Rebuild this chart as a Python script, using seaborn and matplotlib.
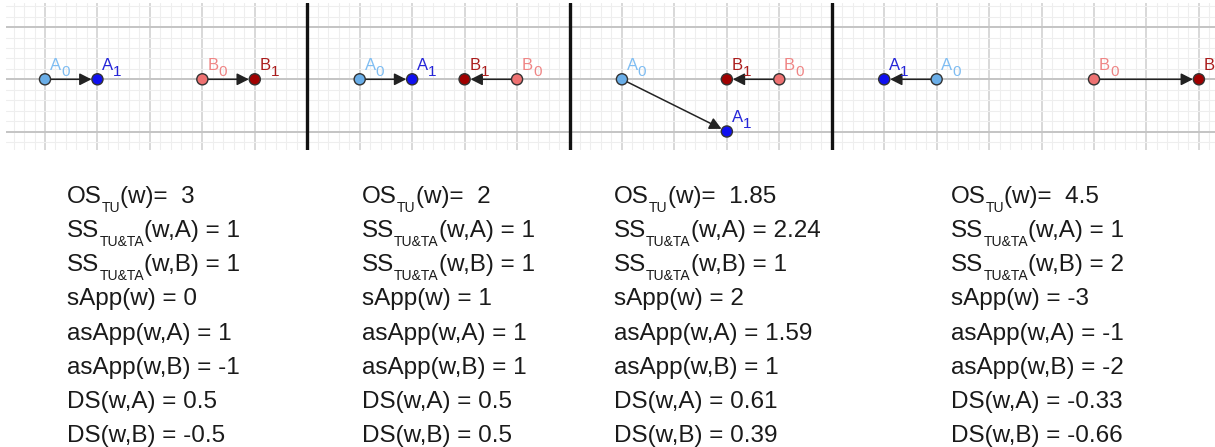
import numpy as np
import pandas as pd
import matplotlib

matplotlib.use("Agg")
import matplotlib.pyplot as plt
import seaborn as sns

# positions of the points (grid units), one entry per panel
a0_x = [0, 6, 11, 17]
a0_y = [0, 0, 0, 0]
a1_x = [1, 7, 13, 16]
a1_y = [0, 0, -1, 0]
b0_x = [3, 9, 14, 20]
b0_y = [0, 0, 0, 0]
b1_x = [4, 8, 13, 22]
b1_y = [0, 0, 0, 0]
separators = [5, 10, 15]

# measures below each panel
os_tu = [3, 2, 1.85, 4.5]
ss_a = [1, 1, 2.24, 1]
ss_b = [1, 1, 1, 2]
s_app = [0, 1, 2, -3]
as_app_a = [1, 1, 1.59, -1]
as_app_b = [-1, 1, 1, -2]
ds_a = [0.5, 0.5, 0.61, -0.33]
ds_b = [-0.5, 0.5, 0.39, -0.66]

sns.set_theme(style="white")
plt.rcParams["font.family"] = ["Liberation Sans", "DejaVu Sans"]

W, H = 1215, 447
fig = plt.figure(figsize=(W / 100, H / 100), dpi=100)

# === grid panel ===
gx0, gtop, gbot = 6, 3.3, 150
ox, oy, ux, uy = 45, 79.3, 52.45, 52.2
ax = fig.add_axes([gx0 / W, 1 - gbot / H, 1 - gx0 / W, (gbot - gtop) / H])

for sx in separators:
    ax.axvline(sx, color="#111111", lw=2.4, zorder=3)

# arrows A0->A1 and B0->B1
for i in range(4):
    for (x0, y0, x1, y1) in [(a0_x[i], a0_y[i], a1_x[i], a1_y[i]),
                             (b0_x[i], b0_y[i], b1_x[i], b1_y[i])]:
        ax.annotate("", xy=(x1, y1), xytext=(x0, y0),
                    arrowprops=dict(arrowstyle="-|>,head_length=0.55,head_width=0.28",
                                    color="#222222", lw=1.1, shrinkA=4, shrinkB=4.3,
                                    mutation_scale=13),
                    zorder=4)

kinds = ["A0", "A1", "B0", "B1"]
df = pd.DataFrame({
    "x": a0_x + a1_x + b0_x + b1_x,
    "y": a0_y + a1_y + b0_y + b1_y,
    "kind": [k for k in kinds for _ in range(4)],
})
point_colors = {"A0": "#6aaee8", "A1": "#1010f0", "B0": "#ee7272", "B1": "#a00000"}
label_colors = {"A0": "#7fbdf2", "A1": "#2525d8", "B0": "#ef8585", "B1": "#aa1c1c"}
sns.scatterplot(data=df, x="x", y="y", hue="kind", palette=point_colors, s=64,
                edgecolor="#333333", linewidth=1.0, legend=False, ax=ax, zorder=5,
                clip_on=False)
ax.set_xlabel("")
ax.set_ylabel("")

# limits after plotting so seaborn autoscale does not move them
ax.set_xlim((gx0 - ox) / ux, (W - ox) / ux)
ax.set_ylim(-(gbot - oy) / uy, (oy - gtop) / uy)
ax.set_xticks(np.arange(-1, 24))
ax.set_yticks(np.arange(-2, 3))
ax.set_xticks(np.arange(-1, 24, 0.2), minor=True)
ax.set_yticks(np.arange(-2, 3, 0.2), minor=True)
ax.set_xlim((gx0 - ox) / ux, (W - ox) / ux)
ax.set_ylim(-(gbot - oy) / uy, (oy - gtop) / uy)
ax.grid(which="minor", color="#eeeeee", lw=0.8)
ax.grid(which="major", axis="x", color="#d8d8d8", lw=1.4)
ax.grid(which="major", axis="y", color="#c4c4c4", lw=1.4)
ax.tick_params(which="both", length=0, labelbottom=False, labelleft=False)
for s in ax.spines.values():
    s.set_visible(False)
ax.set_axisbelow(True)

# overlay in pixel coordinates for all texts
ov = fig.add_axes([0, 0, 1, 1])
ov.set_xlim(0, W)
ov.set_ylim(H, 0)
ov.axis("off")
renderer = fig.canvas.get_renderer()


def draw_parts(x, y, parts):
    for txt, size, dy, color in parts:
        t = ov.text(x, y + dy, txt, fontsize=size, color=color, ha="left", va="baseline")
        x += t.get_window_extent(renderer).width
    return x


for _, r in df.iterrows():
    dx, dy = ax.transData.transform((r["x"], r["y"]))
    px, py = dx + 4.8, H - dy - 9.8
    c = label_colors[r["kind"]]
    draw_parts(px, py, [(r["kind"][0], 12, 0, c), (r["kind"][1], 11, 6, c)])

text_c = "#1a1a1a"
main, sub, sub_dy = 17.5, 10, 8.5
col_x = [67, 362, 614, 951]
base0, step = 203, 34.14
for i in range(4):
    x = col_x[i]
    rows = [
        [("OS", main, 0), ("TU", sub, sub_dy), (f"(w)=  {os_tu[i]:g}", main, 0)],
        [("SS", main, 0), ("TU&TA", sub, sub_dy), (f"(w,A) = {ss_a[i]:g}", main, 0)],
        [("SS", main, 0), ("TU&TA", sub, sub_dy), (f"(w,B) = {ss_b[i]:g}", main, 0)],
        [(f"sApp(w) = {s_app[i]:g}", main, 0)],
        [(f"asApp(w,A) = {as_app_a[i]:g}", main, 0)],
        [(f"asApp(w,B) = {as_app_b[i]:g}", main, 0)],
        [(f"DS(w,A) = {ds_a[i]:g}", main, 0)],
        [(f"DS(w,B) = {ds_b[i]:g}", main, 0)],
    ]
    for k, row in enumerate(rows):
        draw_parts(x, base0 + step * k, [(t, s, d, text_c) for t, s, d in row])

fig.savefig("out.png", dpi=100)
